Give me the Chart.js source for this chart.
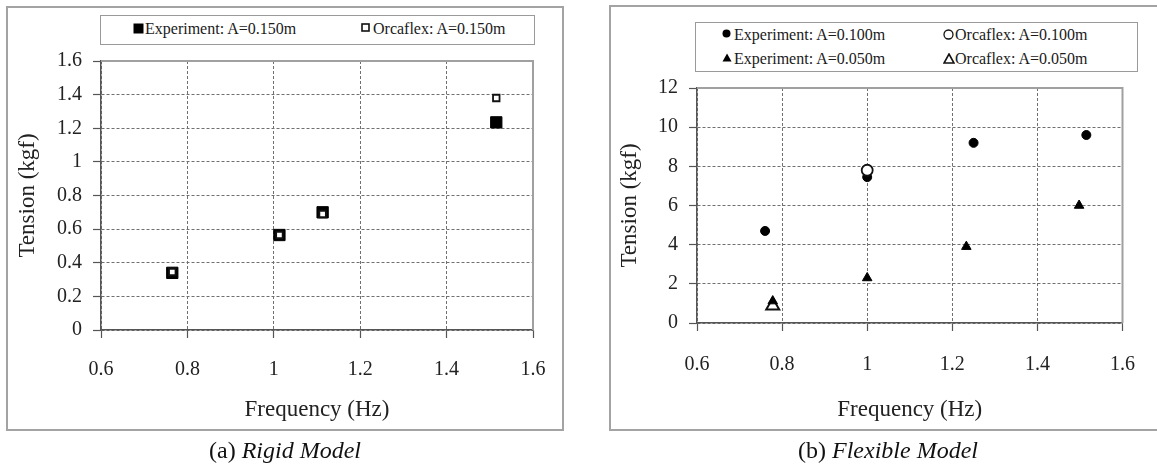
<!DOCTYPE html>
<html>
<head>
<meta charset="utf-8">
<script src="https://cdn.jsdelivr.net/npm/chart.js@4"></script>
<style>
    body { margin: 0; background: #fff; width: 1157px; height: 468px; overflow: hidden; position: relative; font-family: "Liberation Serif", serif; }
    .frame { position: absolute; box-sizing: border-box; border: 2px solid #a3a3a3; }
    .legend { position: absolute; box-sizing: border-box; border: 1.5px solid #9a9a9a; background: #fff; }
    .item { position: absolute; white-space: nowrap; color: #1a1a1a; line-height: 1; }
    .item svg { position: absolute; }
    .caption { position: absolute; width: 400px; text-align: center; font-size: 24px; color: #111; }
    canvas { position: absolute; top: 0; }
</style>
</head>
<body>
<div class="frame" style="left:6px; top:6px; width:558px; height:425px"></div>
<div class="frame" style="left:609px; top:5px; width:560px; height:426px"></div>

<div class="legend" style="left:100px; top:15px; width:435px; height:30px"></div>
<div class="legend" style="left:695px; top:22px; width:443px; height:50px"></div>
<div id="legend-items"></div>

<canvas id="rigid-chart" width="570" height="440" style="left:0"></canvas>
<canvas id="flex-chart" width="557" height="440" style="left:600px"></canvas>

<div class="caption" style="left:85px; top:437px">(a) <i>Rigid Model</i></div>
<div class="caption" style="left:688px; top:437px">(b) <i>Flexible Model</i></div>

<script>
// (a) rigid model
const rigidFreq = [0.765, 1.013, 1.113, 1.515]
const rigidExp = [0.34, 0.565, 0.70, 1.235]
const rigidOrcaFreq = [0.765, 1.013, 1.113, 1.515]
const rigidOrca = [0.345, 0.565, 0.69, 1.38]

// (b) flexible model
const exp100Freq = [0.76, 1.0, 1.25, 1.515]
const exp100 = [4.7, 7.45, 9.2, 9.6]
const orca100Freq = [1.0]
const orca100 = [7.8]
const exp050Freq = [0.778, 1.0, 1.233, 1.498]
const exp050 = [1.12, 2.3, 3.9, 6.0]
const orca050Freq = [0.778]
const orca050 = [0.88]

const freqTicks = [0.6, 0.8, 1, 1.2, 1.4, 1.6]
const rigidYTicks = [0, 0.2, 0.4, 0.6, 0.8, 1, 1.2, 1.4, 1.6]
const flexYTicks = [0, 2, 4, 6, 8, 10, 12]

const rigidLabels = ['Experiment: A=0.150m', 'Orcaflex: A=0.150m']
const flexLabels = ['Experiment: A=0.100m', 'Orcaflex: A=0.100m', 'Experiment: A=0.050m', 'Orcaflex: A=0.050m']

const textColor = '#222'
const serif = '"Liberation Serif", "DejaVu Serif", serif'
Chart.defaults.font.family = serif

function points(xs, ys) {
    return xs.map((x, i) => ({x: x, y: ys[i]}))
}

// grey top / right edge of the plot area
const plotFrame = {
    id: 'plotFrame',
    beforeDatasetsDraw(chart) {
        const {ctx, chartArea: a} = chart
        ctx.save()
        ctx.strokeStyle = '#a0a0a0'
        ctx.lineWidth = 2
        ctx.beginPath()
        ctx.moveTo(a.left, a.top)
        ctx.lineTo(a.right, a.top)
        ctx.lineTo(a.right, a.bottom)
        ctx.stroke()
        ctx.restore()
    }
}

function axis(ticks, min, max, title, size) {
    return {
        type: 'linear',
        min: min,
        max: max,
        afterBuildTicks: s => { s.ticks = ticks.map(v => ({value: v})) },
        afterFit: s => {
            if (s.isHorizontal()) s.height = size
            else s.width = size
        },
        title: {
            display: true,
            text: title,
            color: textColor,
            font: {family: serif, size: 23}
        },
        ticks: {
            color: textColor,
            font: {family: serif, size: 20},
            padding: 11,
            autoSkip: false,
            maxRotation: 0,
            callback: v => String(v)
        },
        grid: {
            color: '#707070',
            lineWidth: 1,
            tickLength: 8,
            tickColor: '#555',
            tickWidth: 1.2
        },
        border: {
            color: '#555',
            width: 1.5,
            dash: [3, 2]
        }
    }
}

function baseOptions(padding, xScale, yScale) {
    return {
        responsive: false,
        animation: false,
        events: [],
        layout: {padding: padding},
        scales: {x: xScale, y: yScale},
        plugins: {
            legend: {display: false},
            tooltip: {enabled: false}
        }
    }
}

const rigidX = axis(freqTicks, 0.6, 1.6, 'Frequency (Hz)', 98)
rigidX.ticks.padding = 20
const rigidChart = new Chart(document.getElementById('rigid-chart'), {
    type: 'scatter',
    data: {
        datasets: [
            {
                label: rigidLabels[0],
                data: points(rigidFreq, rigidExp),
                pointStyle: 'rect',
                pointRadius: 8,
                backgroundColor: '#000',
                borderColor: '#000',
                borderWidth: 1,
                order: 1
            },
            {
                label: rigidLabels[1],
                data: points(rigidOrcaFreq, rigidOrca),
                pointStyle: 'rect',
                pointRadius: 4.6,
                backgroundColor: '#fff',
                borderColor: '#111',
                borderWidth: 1.8,
                order: 0
            }
        ]
    },
    options: baseOptions({left: 10, right: 37, top: 61, bottom: 12},
        rigidX,
        axis(rigidYTicks, 0, 1.6, 'Tension (kgf)', 91)),
    plugins: [plotFrame]
})

const flexX = axis(freqTicks, 0.6, 1.6, 'Frequency (Hz)', 105)
flexX.ticks.padding = 22
const flexChart = new Chart(document.getElementById('flex-chart'), {
    type: 'scatter',
    data: {
        datasets: [
            {
                label: flexLabels[0],
                data: points(exp100Freq, exp100),
                pointStyle: 'circle',
                pointRadius: 4.5,
                backgroundColor: '#000',
                borderColor: '#000',
                borderWidth: 1,
                order: 2
            },
            {
                label: flexLabels[1],
                data: points(orca100Freq, orca100),
                pointStyle: 'circle',
                pointRadius: 5.5,
                backgroundColor: '#fff',
                borderColor: '#111',
                borderWidth: 1.8,
                order: 1
            },
            {
                label: flexLabels[2],
                data: points(exp050Freq, exp050),
                pointStyle: 'triangle',
                pointRadius: 5.5,
                backgroundColor: '#000',
                borderColor: '#000',
                borderWidth: 1,
                order: 0
            },
            {
                label: flexLabels[3],
                data: points(orca050Freq, orca050),
                pointStyle: 'triangle',
                pointRadius: 7.5,
                backgroundColor: '#fff',
                borderColor: '#111',
                borderWidth: 2,
                order: 3
            }
        ]
    },
    options: baseOptions({left: 12, right: 22, top: 88, bottom: 12},
        flexX,
        axis(flexYTicks, 0, 12, 'Tension (kgf)', 85)),
    plugins: [plotFrame]
})

// html legends
const markers = {
    squareFilled: '<svg width="11" height="11"><rect x="0.5" y="0.5" width="10" height="10" fill="#000"/></svg>',
    squareOpen: '<svg width="9" height="9"><rect x="1" y="1" width="7" height="7" fill="#fff" stroke="#111" stroke-width="1.6"/></svg>',
    circleFilled: '<svg width="9" height="9"><circle cx="4.5" cy="4.5" r="4" fill="#000"/></svg>',
    circleOpen: '<svg width="11" height="11"><circle cx="5.5" cy="5.5" r="4.5" fill="#fff" stroke="#111" stroke-width="1.3"/></svg>',
    triangleFilled: '<svg width="10" height="9"><polygon points="5,0.5 9.5,8.5 0.5,8.5" fill="#000"/></svg>',
    triangleOpen: '<svg width="12" height="11"><polygon points="6,1 11,10 1,10" fill="#fff" stroke="#111" stroke-width="1.6"/></svg>'
}

const legendItems = [
    {text: rigidLabels[0], marker: 'squareFilled', x: 139, y: 30, size: 16},
    {text: rigidLabels[1], marker: 'squareOpen', x: 367, y: 30, size: 16},
    {text: flexLabels[0], marker: 'circleFilled', x: 728, y: 36, size: 16},
    {text: flexLabels[1], marker: 'circleOpen', x: 949, y: 36, size: 16},
    {text: flexLabels[2], marker: 'triangleFilled', x: 728, y: 60, size: 16},
    {text: flexLabels[3], marker: 'triangleOpen', x: 949, y: 60, size: 16}
]

const holder = document.getElementById('legend-items')
legendItems.forEach(item => {
    const el = document.createElement('div')
    el.className = 'item'
    el.style.left = (item.x + 6) + 'px'
    el.style.top = (item.y - item.size / 2 - 1) + 'px'
    el.style.fontSize = item.size + 'px'
    el.innerHTML = '<span style="position:absolute; left:-12px; top:2px">' + markers[item.marker] + '</span>' + item.text
    holder.appendChild(el)
})
</script>
</body>
</html>
